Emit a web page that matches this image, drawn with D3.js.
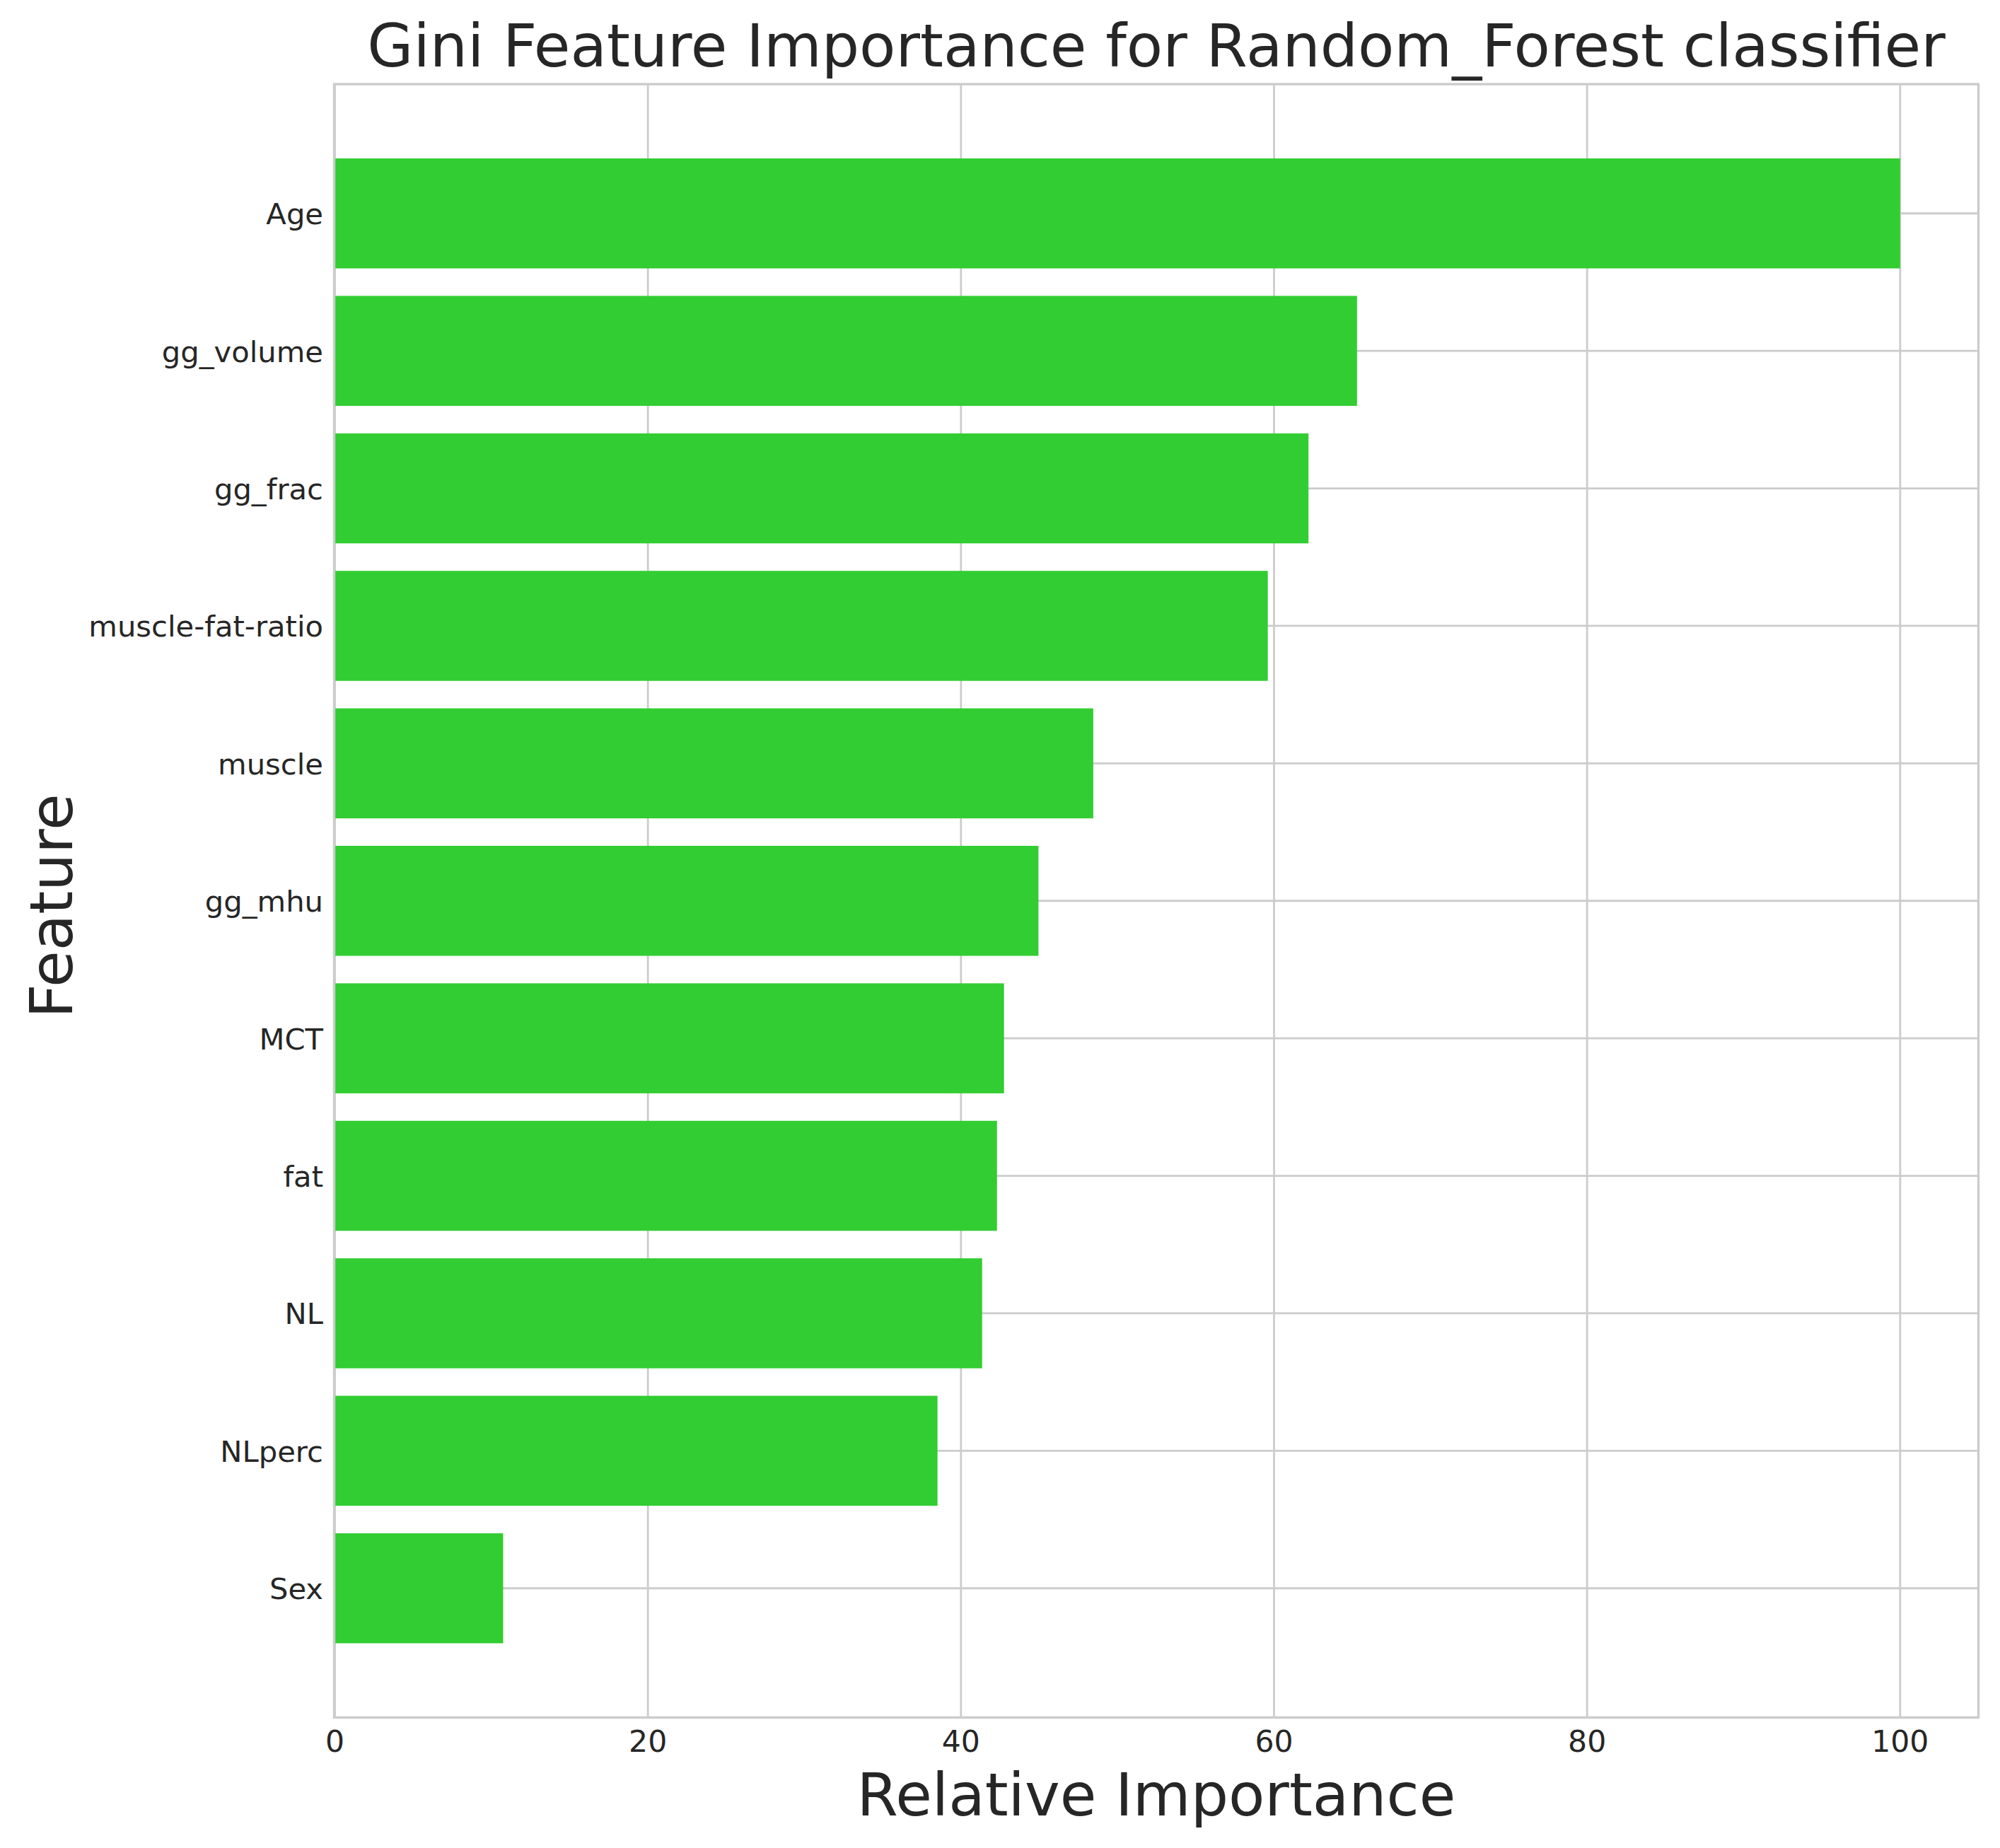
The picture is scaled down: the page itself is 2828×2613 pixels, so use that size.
<!DOCTYPE html>
<html>
<head>
<meta charset="utf-8">
<script src="https://cdn.jsdelivr.net/npm/d3@7"></script>
<style>
  html, body { margin: 0; padding: 0; background: #ffffff; }
  svg { display: block; }
  text { font-family: "DejaVu Sans", sans-serif; fill: #262626; }
</style>
</head>
<body>
<script>
// ---- data ----
const features = ["Age", "gg_volume", "gg_frac", "muscle-fat-ratio", "muscle", "gg_mhu", "MCT", "fat", "NL", "NLperc", "Sex"];
const importance = [100, 65.3, 62.2, 59.6, 48.45, 44.95, 42.75, 42.3, 41.35, 38.5, 10.75];
const xTicks = [0, 20, 40, 60, 80, 100];
const titleText = "Gini Feature Importance for Random_Forest classifier";
const xLabel = "Relative Importance";
const yLabel = "Feature";

// ---- layout ----
const W = 2828, H = 2613;
const ax = { left: 472.5, right: 2797.5, top: 119, bottom: 2428.5 };

const svg = d3.select("body").append("svg").attr("width", W).attr("height", H);
svg.append("rect").attr("width", W).attr("height", H).attr("fill", "#ffffff");

const x = d3.scaleLinear().domain([0, 105]).range([ax.left + 1, ax.right]);
const y = d3.scaleBand().domain(features).range([ax.top, ax.bottom])
  .paddingInner(0.2).paddingOuter(0.54);

const gridColor = "#cccccc";

// vertical gridlines
svg.append("g").selectAll("line").data(xTicks).join("line")
  .attr("x1", d => x(d)).attr("x2", d => x(d))
  .attr("y1", ax.top).attr("y2", ax.bottom)
  .attr("stroke", gridColor).attr("stroke-width", 2.8);

// horizontal gridlines
svg.append("g").selectAll("line").data(features).join("line")
  .attr("x1", ax.left).attr("x2", ax.right)
  .attr("y1", d => y(d) + y.bandwidth() / 2).attr("y2", d => y(d) + y.bandwidth() / 2)
  .attr("stroke", gridColor).attr("stroke-width", 2.8);

// bars
svg.append("g").selectAll("rect").data(features).join("rect")
  .attr("x", x(0))
  .attr("y", d => y(d))
  .attr("width", (d, i) => x(importance[i]) - x(0))
  .attr("height", y.bandwidth())
  .attr("fill", "#32cd32");

// frame
svg.append("rect")
  .attr("x", ax.left).attr("y", ax.top)
  .attr("width", ax.right - ax.left).attr("height", ax.bottom - ax.top)
  .attr("fill", "none").attr("stroke", gridColor).attr("stroke-width", 3.4);

// x tick labels
svg.append("g").selectAll("text").data(xTicks).join("text")
  .attr("x", d => x(d)).attr("y", 2477)
  .attr("text-anchor", "middle")
  .attr("font-size", 42.5)
  .text(d => d3.format("d")(d));

// y tick labels
svg.append("g").selectAll("text").data(features).join("text")
  .attr("x", 457)
  .attr("y", d => y(d) + y.bandwidth() / 2 + 15.5)
  .attr("text-anchor", "end")
  .attr("font-size", 41.7)
  .text(d => d);

// title
svg.append("text")
  .attr("x", (ax.left + ax.right) / 2).attr("y", 94)
  .attr("text-anchor", "middle").attr("font-size", 84)
  .text(titleText);

// x label
svg.append("text")
  .attr("x", (ax.left + ax.right) / 2).attr("y", 2567)
  .attr("text-anchor", "middle").attr("font-size", 84)
  .text(xLabel);

// y label
svg.append("text")
  .attr("transform", `translate(102, 1281) rotate(-90)`)
  .attr("text-anchor", "middle").attr("font-size", 84)
  .text(yLabel);
</script>
</body>
</html>
